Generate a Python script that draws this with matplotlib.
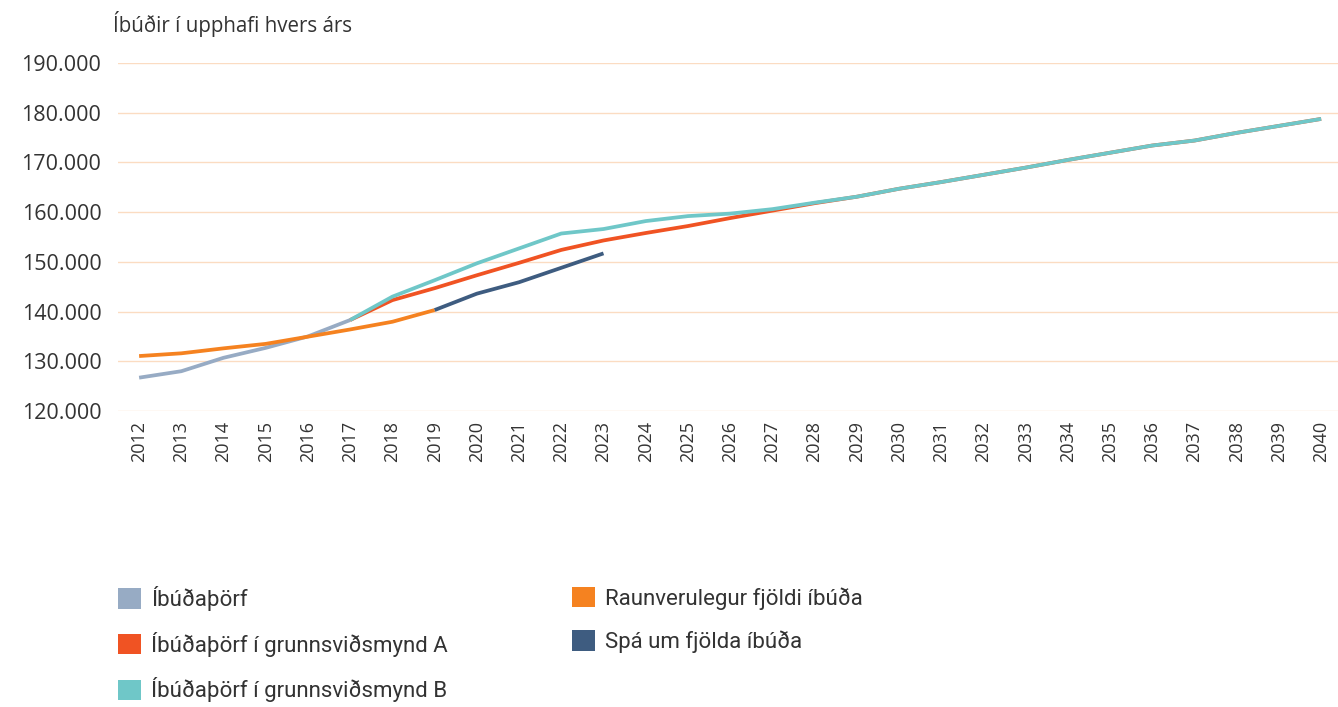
import numpy as np
import matplotlib
matplotlib.use("Agg")
import matplotlib.pyplot as plt
from matplotlib.patches import Patch

# data
years_need = [2012, 2013, 2014, 2015, 2016, 2017]
need = [126700, 128000, 130700, 132700, 135000, 138300]

years_actual = [2012, 2013, 2014, 2015, 2016, 2017, 2018, 2019]
actual = [131050, 131600, 132600, 133500, 134950, 136400, 137950, 140300]

years_forecast = [2019, 2020, 2021, 2022, 2023]
forecast = [140300, 143600, 145900, 148800, 151700]

years_scen = list(range(2017, 2041))
scen_a = [138300, 142300, 144700, 147300, 149800, 152400, 154300, 155800,
          157200, 158800, 160300, 161800, 163100, 164700, 166050, 167500,
          168950, 170500, 171950, 173400, 174400, 175950, 177350, 178750]
scen_b = [138300, 143000, 146300, 149700, 152700, 155700, 156600, 158200,
          159200, 159700, 160600, 161900, 163100, 164700, 166050, 167500,
          168950, 170500, 171950, 173400, 174400, 175950, 177350, 178750]

labels = ["Íbúðaþörf", "Íbúðaþörf í grunnsviðsmynd A", "Íbúðaþörf í grunnsviðsmynd B",
          "Raunverulegur fjöldi íbúða", "Spá um fjölda íbúða"]
colors = ["#97abc4", "#f05323", "#6fc7c8", "#f58220", "#3e5c80"]

plt.rcParams['font.family'] = ['Open Sans', 'DejaVu Sans']
txt = "#333333"

fig = plt.figure(figsize=(13.38, 7.07), dpi=100)
ax = fig.add_axes([0.0882, 0.4187, 0.915, 0.4922])

lw = 2.7
ax.plot(years_need, need, color=colors[0], lw=lw, solid_capstyle='butt')
ax.plot(years_scen, scen_a, color=colors[1], lw=lw, solid_capstyle='butt')
ax.plot(years_scen, scen_b, color=colors[2], lw=lw, solid_capstyle='butt')
ax.plot(years_actual, actual, color=colors[3], lw=lw, solid_capstyle='butt')
ax.plot(years_forecast, forecast, color=colors[4], lw=lw, solid_capstyle='butt')

ax.set_xlim(2011.5, 2040.5)
ax.set_ylim(120000, 190000)
ax.set_yticks(np.arange(120000, 190001, 10000))
ax.set_yticklabels([f"{v:,}".replace(",", ".") for v in range(120000, 190001, 10000)],
                   fontsize=15.5, color=txt)
ax.set_xticks(range(2012, 2041))
ax.set_xticklabels([str(y) for y in range(2012, 2041)], rotation=90, fontsize=13, color=txt)
ax.tick_params(axis='both', length=0)
ax.tick_params(axis='y', pad=12)
ax.tick_params(axis='x', pad=7)
ax.grid(axis='y', color='#fbdcc2', lw=1)
ax.set_axisbelow(True)
for s in ax.spines.values():
    s.set_visible(False)

fig.text(113 / 1338, 1 - 24 / 707, "Íbúðir í upphafi hvers árs", fontsize=14.8,
         color=txt, va='center', ha='left')

handles = [Patch(facecolor=c, edgecolor='none') for c in colors]
leg_kw = dict(loc='upper left', frameon=False, prop={'family': 'Roboto', 'size': 16},
              labelcolor=txt, handlelength=1.03, handleheight=1.03, handletextpad=0.45,
              labelspacing=0.93, borderpad=0, borderaxespad=0)
fig.legend(handles[:3], labels[:3], bbox_to_anchor=(118 / 1338, 1 - 586 / 707), **leg_kw)
fig.legend(handles[3:], labels[3:], bbox_to_anchor=(572 / 1338, 1 - 587 / 707), **leg_kw)

fig.savefig("out.png", dpi=100)
